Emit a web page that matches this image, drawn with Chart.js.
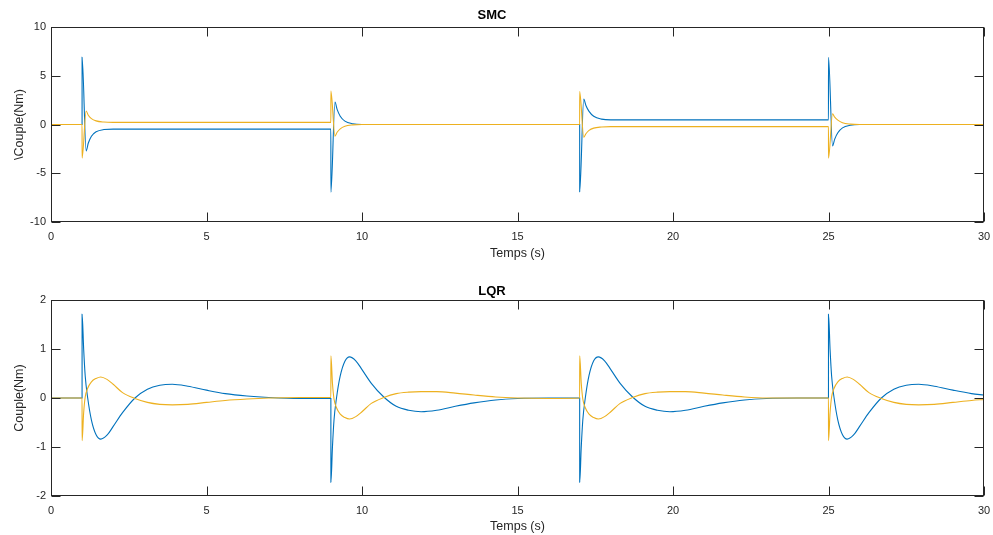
<!DOCTYPE html>
<html>
<head>
<meta charset="utf-8">
<script src="https://cdn.jsdelivr.net/npm/chart.js@4"></script>
<style>
  body { margin: 0; background: #fff; }
  #top-box { position: absolute; left: 0; top: 0; width: 993px; height: 262px; }
  #bottom-box { position: absolute; left: 0; top: 262px; width: 993px; height: 273px; }
</style>
</head>
<body>
<div id="top-box"><canvas id="smc-chart"></canvas></div>
<div id="bottom-box"><canvas id="lqr-chart"></canvas></div>
<script>
// SMC torques
const smcTime = [0, 0.999, 1.0, 1.13, 1.2, 1.3, 1.45, 1.7, 2.0,
  8.999, 9.0, 9.13, 9.2, 9.3, 9.45, 9.7, 10.0,
  16.999, 17.0, 17.13, 17.2, 17.3, 17.45, 17.7, 18.0,
  24.999, 25.0, 25.13, 25.2, 25.3, 25.45, 25.7, 26.0, 30];
const smcBlue = [0, 0, 6.9, -2.7, -1.9, -1.2, -0.75, -0.52, -0.47,
  -0.47, -6.95, 2.3, 1.55, 0.85, 0.35, 0.08, 0,
  0, -6.9, 2.6, 1.95, 1.35, 0.85, 0.55, 0.47,
  0.47, 6.9, -2.2, -1.5, -0.85, -0.35, -0.08, 0, 0];
const smcOrange = [0, 0, -3.45, 1.38, 0.95, 0.6, 0.37, 0.25, 0.22,
  0.22, 3.42, -1.2, -0.8, -0.45, -0.18, -0.04, 0,
  0, 3.38, -1.3, -0.95, -0.6, -0.37, -0.26, -0.22,
  -0.22, -3.45, 1.1, 0.75, 0.45, 0.18, 0.04, 0, 0];

// LQR torques
const lqrTime = [0, 0.999, 1.0, 1.05, 1.1, 1.18, 1.3, 1.45, 1.6, 1.8, 2.0, 2.3, 2.7, 3.1, 3.5, 3.9, 4.4, 5.0, 5.6, 6.3, 7.0, 8.0,
  8.999, 9.0, 9.05, 9.1, 9.18, 9.3, 9.45, 9.6, 9.8, 10.0, 10.3, 10.7, 11.1, 11.5, 11.9, 12.4, 13.0, 13.6, 14.3, 15.0, 16.0,
  16.999, 17.0, 17.05, 17.1, 17.18, 17.3, 17.45, 17.6, 17.8, 18.0, 18.3, 18.7, 19.1, 19.5, 19.9, 20.4, 21.0, 21.6, 22.3, 23.0, 24.0,
  24.999, 25.0, 25.05, 25.1, 25.18, 25.3, 25.45, 25.6, 25.8, 26.0, 26.3, 26.7, 27.1, 27.5, 27.9, 28.4, 29.0, 29.6, 30.0];
const lqrBlue = [0, 0, 1.71, 1.0, 0.45, 0, -0.45, -0.75, -0.84, -0.76, -0.58, -0.3, 0, 0.18, 0.26, 0.28, 0.24, 0.16, 0.09, 0.04, 0.01, -0.01,
  -0.01, -1.72, -1.0, -0.45, 0, 0.45, 0.75, 0.84, 0.76, 0.58, 0.3, 0.02, -0.17, -0.25, -0.28, -0.25, -0.17, -0.1, -0.04, -0.01, 0,
  0, -1.72, -1.0, -0.45, 0, 0.46, 0.76, 0.84, 0.76, 0.58, 0.3, 0.02, -0.17, -0.25, -0.28, -0.25, -0.17, -0.1, -0.04, -0.01, 0,
  0, 1.71, 1.0, 0.45, 0, -0.45, -0.75, -0.84, -0.76, -0.58, -0.3, 0, 0.18, 0.26, 0.28, 0.24, 0.16, 0.09, 0.06];
const lqrOrange = [0, 0, -0.87, -0.3, 0.02, 0.2, 0.33, 0.4, 0.43, 0.38, 0.28, 0.11, -0.01, -0.09, -0.13, -0.14, -0.13, -0.09, -0.05, -0.02, 0, 0.01,
  0.01, 0.86, 0.3, -0.02, -0.2, -0.33, -0.4, -0.43, -0.38, -0.28, -0.11, 0.01, 0.09, 0.12, 0.13, 0.13, 0.1, 0.06, 0.02, 0, -0.01,
  0, 0.86, 0.3, -0.02, -0.2, -0.33, -0.4, -0.43, -0.38, -0.28, -0.11, 0.01, 0.09, 0.12, 0.13, 0.13, 0.1, 0.06, 0.02, 0, 0,
  0, -0.87, -0.3, 0.02, 0.2, 0.33, 0.4, 0.43, 0.38, 0.28, 0.11, -0.01, -0.09, -0.13, -0.14, -0.13, -0.09, -0.05, -0.03];

const xTicks = [0, 5, 10, 15, 20, 25, 30];

const BLUE = '#0072BD';
const ORANGE = '#EDB120';
const AXIS = '#262626';

Chart.defaults.font.family = 'Helvetica, "Liberation Sans", Arial, sans-serif';
Chart.defaults.font.size = 11;
Chart.defaults.color = AXIS;

// matlab style box with ticks pointing inside
const matlabBox = {
  id: 'matlabBox',
  afterDatasetsDraw(chart) {
    const { ctx, chartArea: a, scales } = chart;
    const L = Math.round(a.left) + 0.5, R = Math.round(a.right) - 0.5;
    const T = Math.round(a.top) + 0.5, B = Math.round(a.bottom) - 0.5;
    ctx.save();
    ctx.strokeStyle = AXIS;
    ctx.lineWidth = 1;
    ctx.beginPath();
    scales.x.ticks.forEach(t => {
      const px = Math.round(scales.x.getPixelForValue(t.value)) + 0.5;
      ctx.moveTo(px, B); ctx.lineTo(px, B - 9);
      ctx.moveTo(px, T); ctx.lineTo(px, T + 9);
    });
    scales.y.ticks.forEach(t => {
      const py = Math.round(scales.y.getPixelForValue(t.value)) + 0.5;
      ctx.moveTo(L, py); ctx.lineTo(L + 9, py);
      ctx.moveTo(R, py); ctx.lineTo(R - 9, py);
    });
    ctx.stroke();
    ctx.strokeRect(L, T, R - L, B - T);
    ctx.restore();
  }
};

function points(time, values) {
  return time.map((t, i) => ({ x: t, y: values[i] }));
}

function makeChart(canvasId, title, titlePad, xAxisHeight, yLabel, yMin, yMax, yStep, time, blue, orange) {
  const ctx = document.getElementById(canvasId).getContext('2d');
  return new Chart(ctx, {
    type: 'line',
    data: {
      datasets: [
        { data: points(time, blue), borderColor: BLUE, borderWidth: 1.1, order: 1 },
        { data: points(time, orange), borderColor: ORANGE, borderWidth: 1.1, order: 0 }
      ]
    },
    options: {
      responsive: true,
      maintainAspectRatio: false,
      animation: false,
      layout: { padding: { left: 0, right: 9, top: 0, bottom: 0 } },
      elements: {
        point: { radius: 0 },
        line: { cubicInterpolationMode: 'monotone', fill: false }
      },
      plugins: {
        legend: { display: false },
        tooltip: { enabled: false },
        title: {
          display: true,
          text: title,
          color: '#000',
          font: { size: 13, weight: 'bold' },
          padding: titlePad
        }
      },
      scales: {
        x: {
          type: 'linear',
          min: 0,
          max: 30,
          afterBuildTicks: axis => { axis.ticks = xTicks.map(v => ({ value: v })); },
          grid: { display: false, drawTicks: false },
          border: { display: false },
          ticks: { padding: 8, maxRotation: 0 },
          title: { display: true, text: 'Temps (s)', font: { size: 12.5 }, padding: { top: 0, bottom: 0.5 } },
          afterFit: axis => {
            axis.height = xAxisHeight;
            axis.paddingLeft = 0;
            axis.paddingRight = 0;
          }
        },
        y: {
          min: yMin,
          max: yMax,
          ticks: { stepSize: yStep, padding: 5 },
          grid: { display: false, drawTicks: false },
          border: { display: false },
          title: { display: true, text: yLabel, font: { size: 12.5 }, padding: { top: 12, bottom: 0 } },
          afterFit: axis => {
            axis.width = 51;
            axis.paddingTop = 0;
            axis.paddingBottom = 0;
          }
        }
      }
    },
    plugins: [matlabBox]
  });
}

makeChart('smc-chart', 'SMC', { top: 8, bottom: 3.4 }, 40, '\\Couple(Nm)', -10, 10, 5, smcTime, smcBlue, smcOrange);
makeChart('lqr-chart', 'LQR', { top: 22, bottom: 0.4 }, 39, 'Couple(Nm)', -2, 2, 1, lqrTime, lqrBlue, lqrOrange);
</script>
</body>
</html>
